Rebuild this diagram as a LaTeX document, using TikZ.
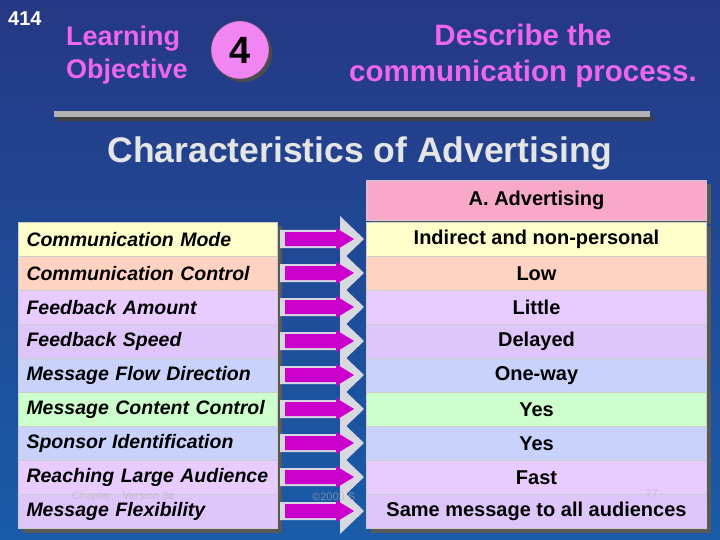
\documentclass[tikz,border=0pt]{standalone}
\usepackage{fontspec}
\setmainfont{Liberation Sans}
\usetikzlibrary{shadows}
\definecolor{bgtop}{HTML}{263884}
\definecolor{bgbot}{HTML}{1A5CA8}
\definecolor{mag}{HTML}{EE66EE}
\definecolor{cy}{HTML}{FFFFCC}
\definecolor{cp}{HTML}{FFD2C2}
\definecolor{cl}{HTML}{E8CCFF}
\definecolor{cl2}{HTML}{DFC6FA}
\definecolor{cb}{HTML}{C8D2FA}
\definecolor{cg}{HTML}{CCFFCC}
\definecolor{ch}{HTML}{F8A8C8}
\definecolor{arr}{HTML}{CC00CC}
\definecolor{arrbg}{HTML}{D8D8E0}
\tikzset{
 cell/.style={draw=gray!40,line width=1pt,anchor=north west,minimum height=34pt,inner sep=0pt,
   drop shadow={shadow xshift=4pt,shadow yshift=-4pt,fill=gray!70!black,opacity=1}},
 lcell/.style={cell,minimum width=259pt,text width=255pt,align=left,font=\bfseries\itshape\fontsize{19.5}{20}\selectfont},
 rcell/.style={cell,minimum width=340pt,align=center,font=\bfseries\fontsize{20}{20}\selectfont},
 foot/.style={text=gray!60,opacity=0.6,font=\fontsize{11}{11}\selectfont,inner sep=0pt},
}
\begin{document}
\begin{tikzpicture}[x=1pt,y=-1pt]
\shade[top color=bgtop,bottom color=bgbot] (0,0) rectangle (720,540);
\useasboundingbox (0,0) rectangle (720,540);
\node[anchor=north west,text=white,font=\bfseries\fontsize{20}{20}\selectfont,inner sep=0pt] (num) at (8,12) {414};
\node[anchor=north west,text=mag,font=\bfseries\fontsize{27}{33}\selectfont,align=left,inner sep=0pt] (lo) at (66,26) {Learning\\Objective};
\fill[gray!60!black] (243,53) circle (29);
\node[circle,fill=mag!80!white,draw=black!70,minimum size=58pt,inner sep=0pt,font=\bfseries\fontsize{38}{38}\selectfont] (four) at (240,50) {4};
\node[text=mag,font=\bfseries\fontsize{29.5}{36}\selectfont,align=center] (desc) at (523,56) {Describe the\\communication process.};
\fill[gray!50!black] (57,115) rectangle (653,121);
\fill[gray!60] (54,111) rectangle (650,117);
\node[text=gray!20,font=\bfseries\fontsize{35.5}{36}\selectfont] (title) at (360,153) {Characteristics of Advertising};
\node[rcell,fill=ch,minimum height=40pt] (hdr) at (366,180) {A. Advertising};
\foreach \i/\l/\r/\c in {0/Communication Mode/Indirect and non-personal/cy,
 1/Communication Control/Low/cp,
 2/Feedback Amount/Little/cl,
 3/Feedback Speed/Delayed/cl2,
 4/Message Flow Direction/One-way/cb,
 5/Message Content Control/Yes/cg,
 6/Sponsor Identification/Yes/cb,
 7/Reaching Large Audience/Fast/cl,
 8/Message Flexibility/Same message to all audiences/cl2}{
 \pgfmathsetmacro{\yy}{222+34*\i}
 \node[lcell,fill=\c] (L\i) at (18,\yy) {\hspace*{6pt}\l};
 \node[rcell,fill=\c] (R\i) at (366,\yy) {\r};
 \pgfmathsetmacro{\ym}{\yy+17}
 \fill[arrbg] (280,\ym-9) -- (340,\ym-9) -- (340,\ym-23) -- (364,\ym) -- (340,\ym+23) -- (340,\ym+9) -- (280,\ym+9) -- cycle;
}
\foreach \i in {0,...,8}{
 \pgfmathsetmacro{\ym}{222+34*\i+17}
 \fill[arr] (285,\ym-7) -- (336,\ym-7) -- (336,\ym-11) -- (354,\ym) -- (336,\ym+11) -- (336,\ym+7) -- (285,\ym+7) -- cycle;
}
\node[foot,anchor=west] (f1) at (72,497) {Chapter\quad Version 3e};
\node[foot,anchor=west] (f2) at (312,497) {©2003 S};
\node[foot] (f3) at (652,494) {77};
\end{tikzpicture}
\end{document}
